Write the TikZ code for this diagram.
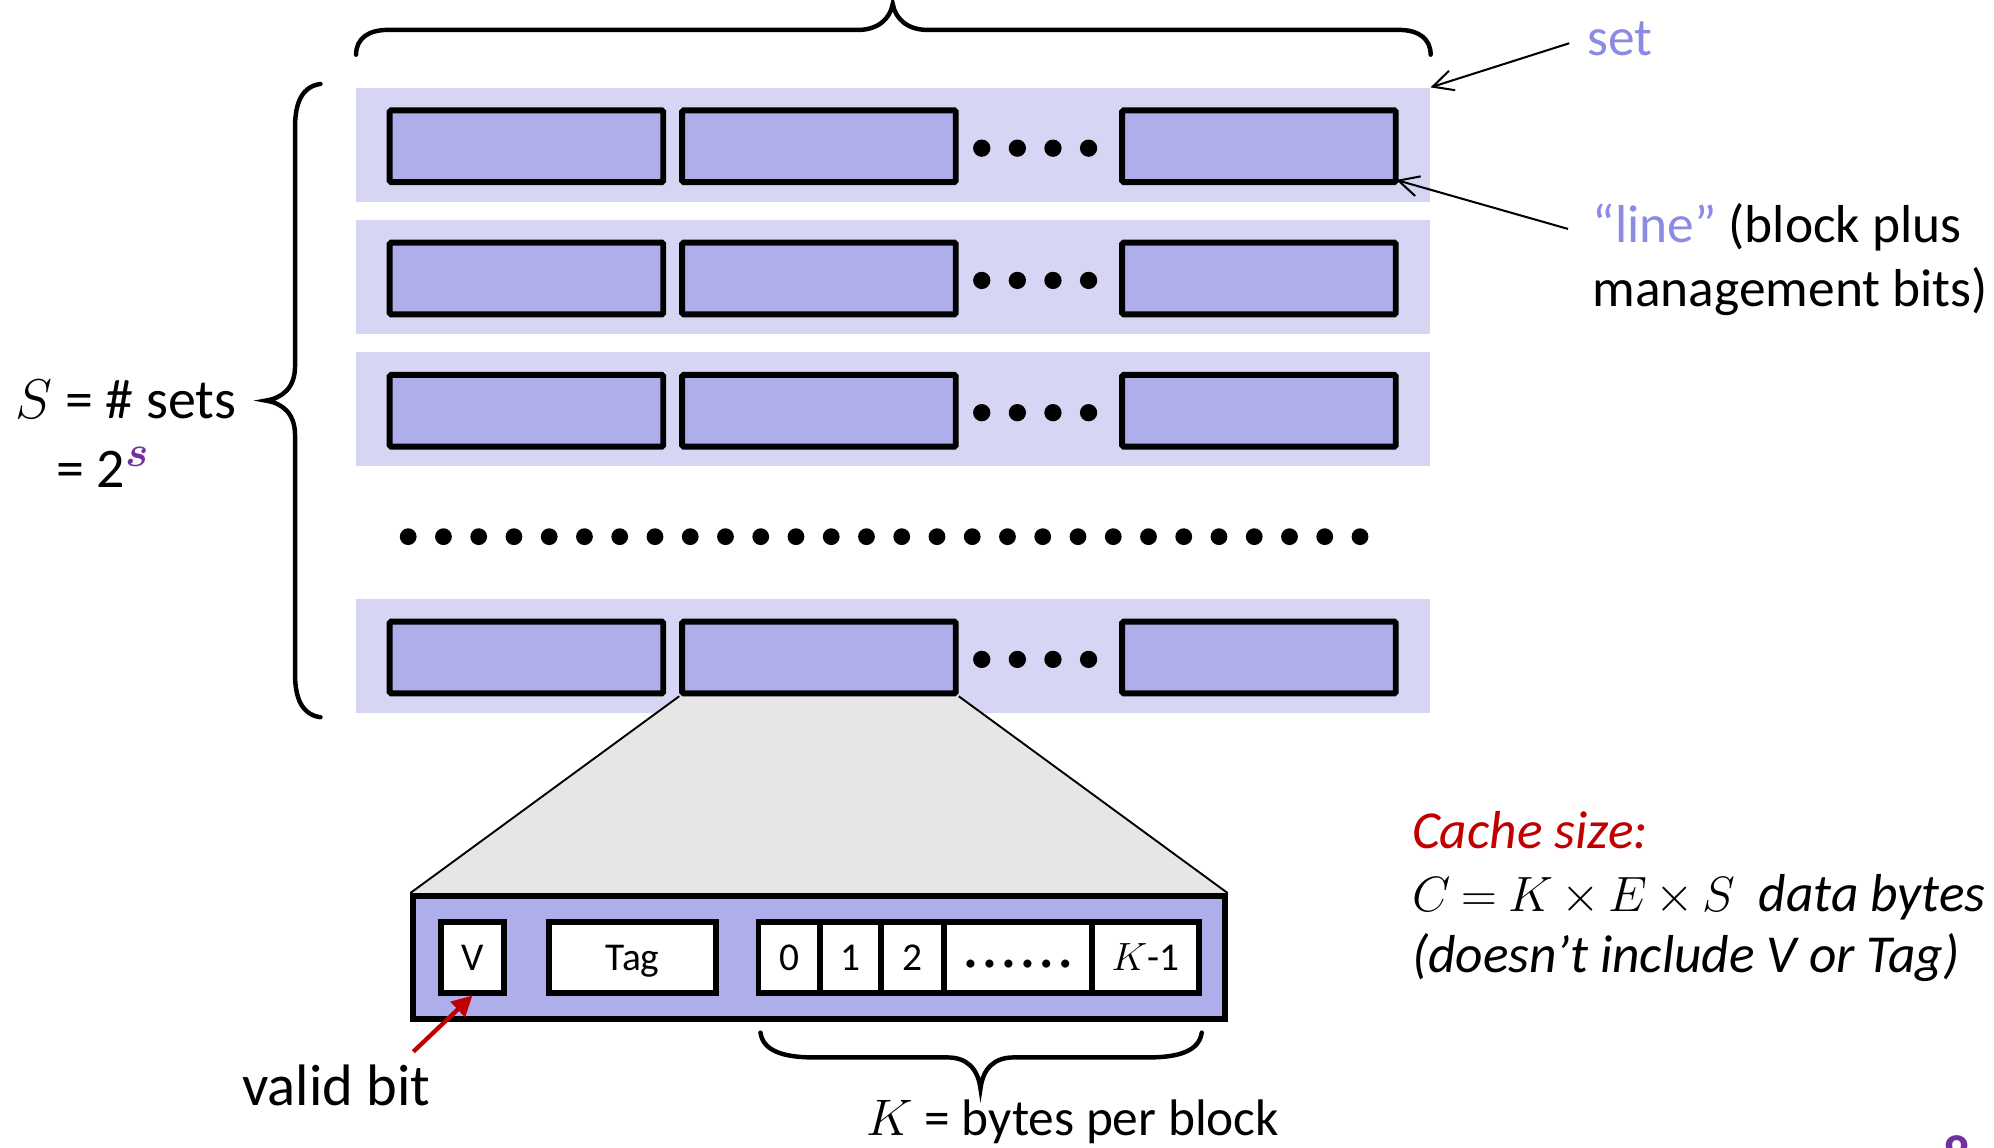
\RequirePackage{fix-cm}
\documentclass[tikz,border=0pt]{standalone}
\usepackage{bm}
\usepackage{fontspec}
\setmainfont{Carlito}
\usetikzlibrary{arrows.meta,calc}

\definecolor{setbg}{HTML}{D6D6F4}
\definecolor{linefill}{HTML}{AEAEEB}
\definecolor{lavtext}{HTML}{8B8BE3}
\definecolor{cachered}{HTML}{C00000}
\definecolor{spurple}{HTML}{7030A0}
\definecolor{zoomgray}{HTML}{E6E6E6}

\newcommand\lblsize{\fontsize{21pt}{25pt}\selectfont}
\newcommand\bigsize{\fontsize{22pt}{26pt}\selectfont}
\newcommand\validsize{\fontsize{23pt}{27pt}\selectfont}
\newcommand\ksize{\fontsize{20.2pt}{24pt}\selectfont}
\newcommand\fieldsize{\fontsize{15.5pt}{18pt}\selectfont}
\newcommand\mathsize{\fontsize{19.5pt}{24pt}\selectfont}
\newcommand\bdot{\makebox[7.45pt]{\fontsize{9pt}{9pt}\selectfont\textbullet}}

\pgfdeclarelayer{bands}
\pgfdeclarelayer{zoom}
\pgfsetlayers{bands,zoom,main}

\tikzset{
  setband/.style={rectangle, fill=setbg, inner sep=0pt,
    minimum width=422.3pt, minimum height=44.7pt},
  linebox/.style={rectangle, draw, line width=2.3pt, fill=linefill,
    rounded corners=0.6pt, inner sep=0pt,
    minimum width=107.6pt, minimum height=28.2pt},
  bigblock/.style={rectangle, draw, line width=2.3pt, fill=linefill,
    inner sep=0pt, minimum width=319pt, minimum height=48.25pt},
  field/.style={rectangle, draw, line width=2.3pt, fill=white, inner sep=0pt,
    minimum height=27.75pt, text height=12pt, text depth=1.75pt,
    font=\fieldsize},
  lbl/.style={inner sep=0pt, anchor=base west, font=\lblsize},
  brace/.style={line width=1.75pt, line cap=round},
  pointer/.style={line width=0.8pt, -{Straight Barb[length=8pt,width=8pt]}},
  validptr/.style={line width=1.7pt, draw=cachered,
    -{Triangle[length=8pt,width=8pt,fill=cachered]}},
  dot/.style={fill=black}
}

\begin{document}
\begin{tikzpicture}[x=0.5pt,y=-0.5pt]
\clip (0,0) rectangle (1568,902);

% ---- sets (rows) and their lines ----
\begin{pgfonlayer}{bands}
  \node[setband] (set1) at (702.2,113.8) {};
  \node[setband] (set2) at (702.2,217.8) {};
  \node[setband] (set3) at (702.2,321.8) {};
  \node[setband] (set5) at (702.2,515.8) {};
\end{pgfonlayer}

\foreach \r/\y in {1/115,2/219,3/323,5/517}{
  \node[linebox] (l\r1) at (414,\y) {};
  \node[linebox] (l\r2) at (644,\y) {};
  \node[linebox] (l\r3) at (990,\y) {};
  \foreach \x in {772,800,828,856}
    \fill[dot] (\x,{\y+1.5}) circle (3.4pt);
}

% vertical ellipsis between the sets
\foreach \i in {0,...,27}
  \fill[dot] ({321+\i*27.72},422) circle (3.3pt);

% ---- braces ----
\draw[brace] (280,43) .. controls (280,30) and (290,23.5) .. (305,23.5)
  -- (675,23.5) .. controls (690,23.5) and (700,15) .. (702,3)
  .. controls (704,15) and (714,23.5) .. (729,23.5)
  -- (1100,23.5) .. controls (1115,23.5) and (1125,30) .. (1125,43);

\draw[brace] (252,66) .. controls (238,68) and (232,80) .. (232,100)
  -- (232,288) .. controls (232,305) and (222,313) .. (209,315)
  .. controls (222,317) and (232,325) .. (232,342)
  -- (232,530) .. controls (232,550) and (238,562) .. (252,564);

% ---- one line, enlarged ----
\node[bigblock] (blk) at (644,752.75) {};
\node[field, minimum width=24.5pt] (vbit) at (371.5,752.75) {V};
\node[field, minimum width=65.5pt] (tag) at (497.5,752.75) {Tag};
\node[field, minimum width=24.25pt] (b0) at (620.75,752.75) {0};
\node[field, minimum width=24pt]    (b1) at (669,752.75) {1};
\node[field, minimum width=24.5pt]  (b2) at (717.5,752.75) {2};
\node[field, minimum width=58.5pt]  (bdots) at (800.5,752.75)
  {\bdot\bdot\bdot\bdot\bdot\bdot};
\node[field, minimum width=41.75pt] (bk) at (900.75,752.75) {$K$-1};

\begin{pgfonlayer}{zoom}
  \fill[zoomgray] (l52.south west) -- (l52.south east)
    -- (blk.north east) -- (blk.north west) -- cycle;
  \draw[line width=0.75pt] (l52.south west) -- (blk.north west);
  \draw[line width=0.75pt] (l52.south east) -- (blk.north east);
\end{pgfonlayer}

\draw[brace] (598,812) .. controls (600,826) and (615,831.5) .. (640,831.5)
  -- (745,831.5) .. controls (760,831.5) and (769,840) .. (771,856)
  .. controls (773,840) and (782,831.5) .. (797,831.5)
  -- (903,831.5) .. controls (928,831.5) and (943,826) .. (945,812);

% ---- labels and pointers ----
\node[lbl, text=lavtext] (setlbl) at (1248,43.5) {set};
\coordinate (settail) at (1234,34);
\draw[pointer] (settail) -- (set1.north east);

\node[lbl] (linelbl) at (1252,191) {\textcolor{lavtext}{“line”} (block plus};
\node[lbl] (linelbl2) at (1252,241) {management bits)};
\coordinate (linetail) at (1233,180);
\draw[pointer] (linetail) -- ($(l13.south east)+(-2,-4)$);

\node[lbl, font=\bigsize] (slbl) at (12,329) {$S$ = \# sets};
\node[lbl, font=\bigsize] (slbl2) at (44,383)
  {= 2\raisebox{8pt}{\fontsize{17pt}{17pt}\selectfont
    $\textcolor{spurple}{\bm{s}}$}};

\node[lbl, font=\validsize] (validlbl) at (190,869) {valid bit};
\coordinate (validtail) at (325,827);
\draw[validptr] (validtail) -- (vbit.south);

\node[lbl, font=\ksize] (klbl) at (681,893) {$K$ = bytes per block};

\node[lbl, font=\lblsize\itshape, text=cachered] (cachelbl) at (1110,667)
  {Cache size:};
\node[lbl] (formula) at (1110,717)
  {{\mathsize\thickmuskip=4mu\medmuskip=3mu $C = K \times E \times S$}\ \
   \textit{data bytes}};
\node[lbl, font=\lblsize\itshape] (note) at (1110,765)
  {(doesn’t include V or Tag)};

\node[anchor=base, inner sep=0pt, text=spurple, font=\lblsize\bfseries]
  (pgnum) at (1539,922) {8};
\end{tikzpicture}
\end{document}
